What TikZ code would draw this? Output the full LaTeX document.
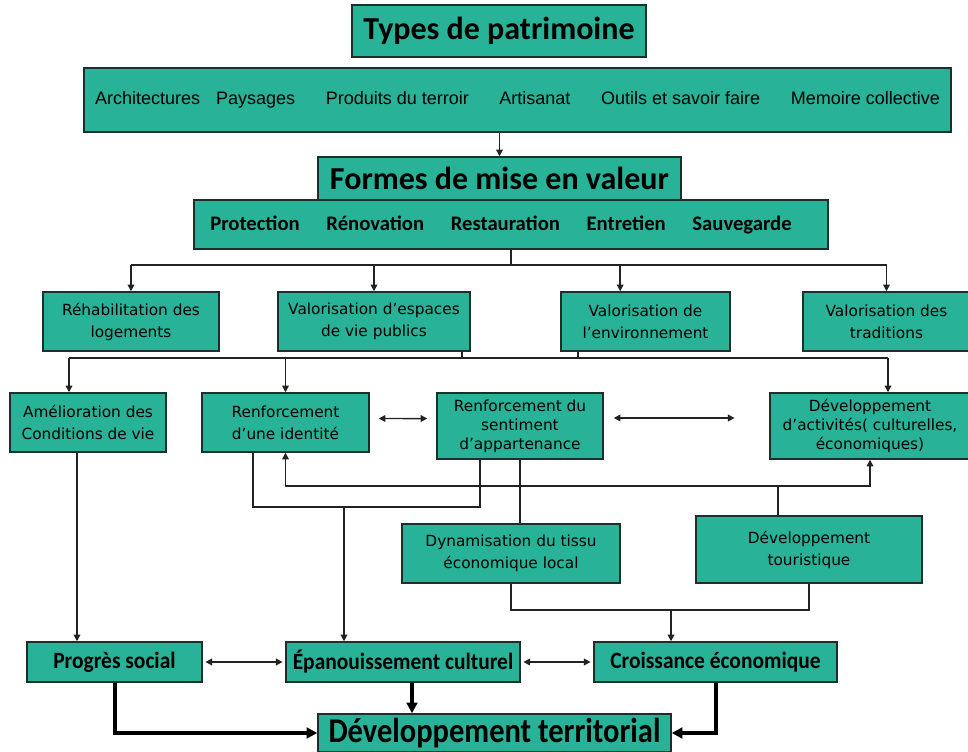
\documentclass[tikz,border=0pt]{standalone}
\usepackage{fontspec}
\usetikzlibrary{arrows.meta}

\newfontfamily\carlito{Carlito}
\newfontfamily\carlitonarrow[FakeStretch=0.92]{Carlito}
\newfontfamily\carlitocond[FakeStretch=0.88]{Carlito}
\newfontfamily\arialike{Liberation Sans}
\newfontfamily\verdlike{DejaVu Sans}

\definecolor{boxfill}{RGB}{40,178,152}
\definecolor{boxline}{RGB}{28,48,42}
\definecolor{linecol}{RGB}{34,34,34}

\begin{document}
\begin{tikzpicture}[
    x=0.75pt, y=-0.75pt,
    box/.style={draw=boxline, fill=boxfill, line width=1.1pt, inner sep=0pt, align=center},
    sz/.style 2 args={minimum width=#1*0.75pt, minimum height=#2*0.75pt},
    head/.style={font=\fontsize{24}{28}\selectfont\carlito\bfseries},
    list/.style={font=\fontsize{13.5}{16}\selectfont\arialike},
    forms/.style={font=\fontsize{15.5}{18}\selectfont\carlito\bfseries},
    mid/.style={font=\fontsize{11.5}{16.5}\selectfont\verdlike},
    midthree/.style={font=\fontsize{11.5}{14.2}\selectfont\verdlike},
    goal/.style={font=\fontsize{17.5}{20}\selectfont\carlitonarrow\bfseries},
    wire/.style={draw=linecol, line width=1.1pt},
    arr/.style={wire, -{Triangle[length=5pt,width=5pt]}},
    biarr/.style={wire, {Triangle[length=5pt,width=5pt]}-{Triangle[length=5pt,width=5pt]}},
    fat/.style={draw=black, line width=3pt, -{Triangle[length=8pt,width=8pt]}}
  ]
  \useasboundingbox (0,0) rectangle (968,752);

  % patrimoine et mise en valeur
  \node (title) at (499,31) [box, sz={294}{52}, head] {Types de patrimoine};
  \node (types) at (517.5,100) [box, sz={867}{64}, list] {Architectures\hspace{12pt}Paysages\hspace{23pt}Produits du terroir\hspace{23pt}Artisanat\hspace{23pt}Outils et savoir faire\hspace{23pt}Memoire collective};
  \node (formes) at (499.5,178.5) [box, sz={363}{43}, head] {Formes de mise en valeur};
  \node (formlist) at (511,224.5) [box, sz={634}{49}, forms] {Protection\hspace{20pt}Rénovation\hspace{20pt}Restauration\hspace{20pt}Entretien\hspace{20pt}Sauvegarde\hspace*{15pt}};

  % valorisations
  \node (rehab) at (131,321.5) [box, sz={176}{59}, mid] {Réhabilitation des\\logements};
  \node (espaces) at (374,321.5) [box, sz={192}{59}, mid] {Valorisation d’espaces\\de vie publics};
  \node (environ) at (645.5,321.5) [box, sz={169}{59}, mid] {Valorisation de\\l’environnement};
  \node (traditions) at (886.5,321.5) [box, sz={167}{59}, mid] {Valorisation des\\traditions};

  % effets
  \node (amelior) at (88,422.5) [box, sz={156}{59}, mid] {Amélioration des\\Conditions de vie};
  \node (identite) at (285.5,422.5) [box, sz={167}{59}, mid] {Renforcement\\d’une identité};
  \node (sentiment) at (520,426) [box, sz={166}{66}, midthree] {Renforcement du\\sentiment\\d’appartenance};
  \node (activites) at (870,426) [box, sz={200}{66}, midthree] {Développement\\d’activités( culturelles,\\économiques)};
  \node (dynam) at (511,553.5) [box, sz={218}{59}, mid] {Dynamisation du tissu\\économique local};
  \node (tourist) at (809,549.5) [box, sz={226}{67}, mid] {Développement\\touristique};

  % finalites
  \node (progres) at (114.5,662) [box, sz={175}{40}, goal] {Progrès social};
  \node (epanou) at (403,662) [box, sz={234}{40}, goal] {Épanouissement culturel};
  \node (croiss) at (715.5,662) [box, sz={243}{40}, goal] {Croissance économique};
  \node (devterr) at (494.5,733) [box, sz={353}{38}, font=\fontsize{26}{28}\selectfont\carlitocond\bfseries] {Développement territorial};

  \draw[arr] (types.south -| formes.north) -- (formes.north);

  % premier bus
  \coordinate (busA) at (512,265);
  \coordinate (envtop) at ([xshift=-19pt]environ.north);
  \draw[wire] (formlist.south) -- (formlist.south |- busA);
  \draw[wire] (rehab.north |- busA) -- (traditions.north |- busA);
  \draw[arr] (rehab.north |- busA) -- (rehab.north);
  \draw[arr] (espaces.north |- busA) -- (espaces.north);
  \draw[arr] (envtop |- busA) -- (envtop);
  \draw[arr] (traditions.north |- busA) -- (traditions.north);

  % second bus
  \coordinate (b2w) at (69,358);
  \coordinate (b2e) at (888,358);
  \draw[wire] (espaces.south -| 462,0) -- (b2w -| 462,0);
  \draw[wire] (environ.south -| 578,0) -- (b2w -| 578,0);
  \draw[wire] (b2w) -- (b2e);
  \draw[arr] (b2w) -- (amelior.north -| b2w);
  \draw[arr] (b2w -| identite.north) -- (identite.north);
  \draw[arr] (b2e) -- (activites.north -| b2e);

  \draw[biarr, shorten <=6.75pt, shorten >=6.75pt] ([yshift=3pt]identite.east) -- ([yshift=5.6pt]sentiment.west);
  \draw[biarr, shorten <=7.5pt, shorten >=26pt] ([yshift=6pt]sentiment.east) -- ([yshift=6pt]activites.west);

  % liaisons du milieu
  \coordinate (j1) at (344,507);
  \coordinate (j2) at (778,486);
  \coordinate (j3) at (671,610);
  \draw[wire] (identite.south -| 253,0) |- (j1) -| (sentiment.south -| 480,0);
  \draw[arr] (j1) -- (j1 |- epanou.north);
  \draw[biarr] (identite.south) |- (j2) -| (activites.south);
  \draw[wire] (tourist.north -| j2) -- (j2);
  \draw[wire] (sentiment.south) -- (dynam.north -| sentiment.south);
  \draw[wire] (dynam.south) |- (j3) -| (tourist.south);
  \draw[arr] (j3) -- (j3 |- croiss.north);
  \draw[arr] (amelior.south -| 77,0) -- (progres.north -| 77,0);

  % vers le developpement territorial
  \draw[biarr, shorten <=2pt, shorten >=2pt] (progres) -- (epanou);
  \draw[biarr, shorten <=2pt, shorten >=2pt] (epanou) -- (croiss);
  \draw[fat] (progres.south) |- (devterr.west);
  \draw[fat] (epanou.south -| 412,0) -- (devterr.north -| 412,0);
  \draw[fat] (croiss.south) |- (devterr.east);
\end{tikzpicture}
\end{document}
